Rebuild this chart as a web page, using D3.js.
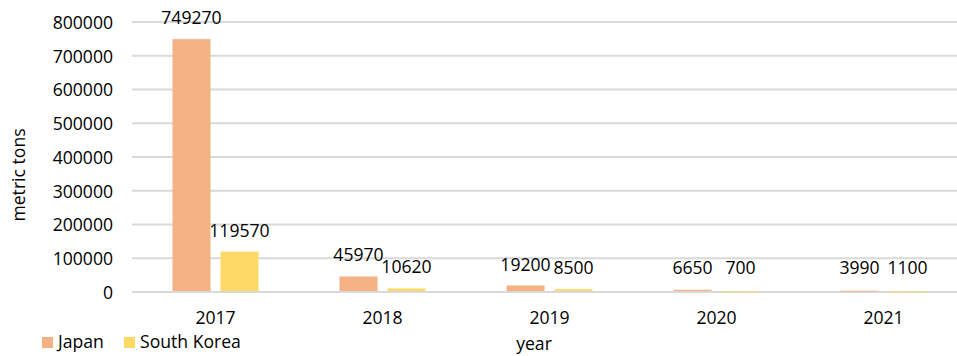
<!DOCTYPE html>
<html><head><meta charset="utf-8">
<script src="https://cdn.jsdelivr.net/npm/d3@7"></script>
<style>body{margin:0;background:#fff}svg{display:block;font-family:"Open Sans",sans-serif}</style>
</head><body><svg id="c" width="957" height="356"></svg>
<script>
const years = ["2017","2018","2019","2020","2021"];
const seriesNames = ["Japan","South Korea"];
const japan = [749270, 45970, 19200, 6650, 3990];
const southKorea = [119570, 10620, 8500, 700, 1100];
const yTicks = [0,100000,200000,300000,400000,500000,600000,700000,800000];
const colors = ["#F4B183","#FFD966"];

(function(){
const FS = 17.6;
const svg = d3.select("#c");
const pl = 132, pr = 967, pt = 22, pb = 292;
const x = d3.scaleBand().domain(years).range([pl, pr]).paddingInner(0).paddingOuter(0);
const x1 = d3.scaleBand().domain(seriesNames).range([40.5, 126.5]).paddingInner(10/48);
const y = d3.scaleLinear().domain([0, 800000]).range([pb, pt]);

svg.append("g").selectAll("line").data(yTicks).join("line")
  .attr("x1", pl).attr("x2", pr)
  .attr("y1", d => y(d)).attr("y2", d => y(d))
  .attr("stroke", "#D9D9D9").attr("stroke-width", 2);

const yAxis = d3.axisLeft(y).tickValues(yTicks).tickSize(0).tickPadding(0).tickFormat(d3.format("d"));
const ya = svg.append("g").attr("transform", `translate(113,0)`).call(yAxis);
ya.select(".domain").remove();
ya.selectAll("text").attr("font-size", FS).attr("fill", "#000").attr("font-family", "Open Sans").attr("dy", "0.36em");

const xAxis = d3.axisBottom(x).tickSize(0).tickPadding(0);
const xa = svg.append("g").attr("transform", `translate(0,${pb})`).call(xAxis);
xa.select(".domain").remove();
xa.selectAll("text").attr("font-size", FS).attr("fill", "#000").attr("font-family", "Open Sans").attr("dy", null).attr("y", 32);

const data = years.map((yr, i) => ({year: yr, vals: [japan[i], southKorea[i]]}));
const groups = svg.append("g").selectAll("g").data(data).join("g")
  .attr("transform", d => `translate(${x(d.year)},0)`);
groups.selectAll("rect").data(d => d.vals.map((v, k) => ({k, v}))).join("rect")
  .attr("x", d => x1(seriesNames[d.k]))
  .attr("width", x1.bandwidth())
  .attr("y", d => y(d.v))
  .attr("height", d => Math.max(pb - 1 - y(d.v), 0.8))
  .attr("fill", d => colors[d.k]);
groups.selectAll("text").data(d => d.vals.map((v, k) => ({k, v}))).join("text")
  .attr("x", d => x1(seriesNames[d.k]) + x1.bandwidth() / 2)
  .attr("y", d => Math.min(y(d.v) - 15, pb - 18))
  .attr("text-anchor", "middle")
  .attr("font-size", FS).attr("fill", "#000")
  .text(d => d.v);

svg.append("text").attr("transform", "translate(25,175) rotate(-90)")
  .attr("text-anchor", "middle").attr("font-size", FS).attr("fill", "#000").text("metric tons");
svg.append("text").attr("x", 534).attr("y", 350)
  .attr("text-anchor", "middle").attr("font-size", FS).attr("fill", "#000").text("year");

const legX = [42, 124];
const leg = svg.append("g").selectAll("g").data(seriesNames).join("g")
  .attr("transform", (d, i) => `translate(${legX[i]},337)`);
leg.append("rect").attr("width", 11).attr("height", 11).attr("fill", (d, i) => colors[i]);
leg.append("text").attr("x", 16).attr("y", 11).attr("font-size", FS).attr("fill", "#000").text(d => d);
})();
</script></body></html>
